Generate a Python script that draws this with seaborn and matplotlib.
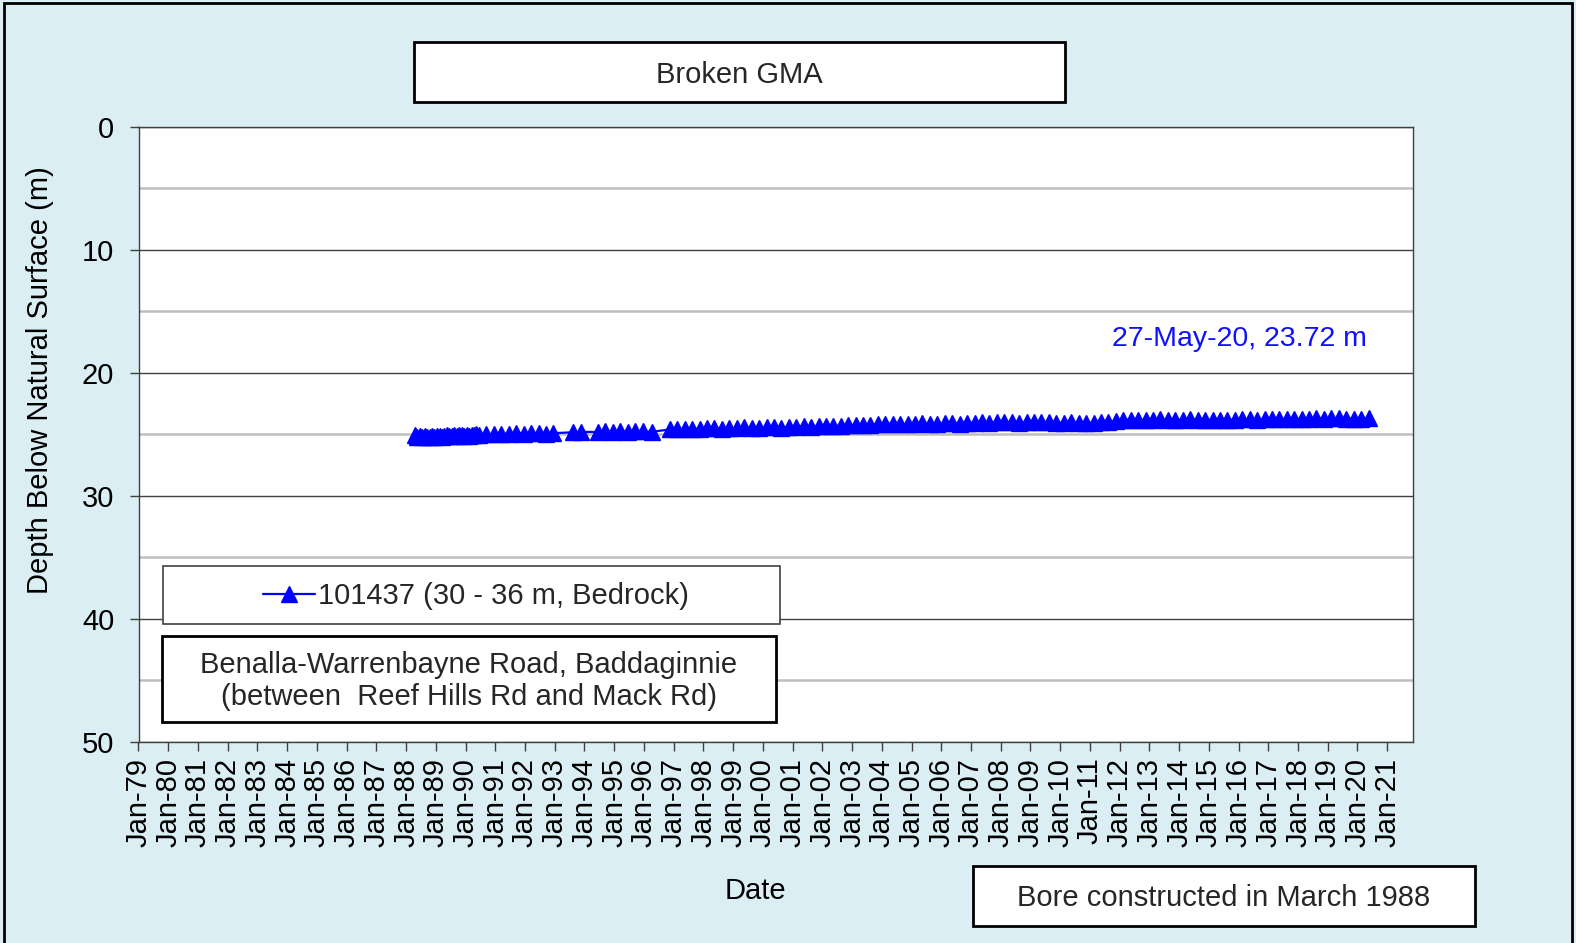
import matplotlib
matplotlib.use("Agg")
import matplotlib.pyplot as plt
import matplotlib.dates as mdates
from matplotlib.patches import Rectangle
from matplotlib.ticker import FixedLocator
import pandas as pd
import seaborn as sns

# ---------------- data ----------------
dates = [
    # monthly 1988-1990
    "1988-04-15", "1988-05-15", "1988-06-15", "1988-07-15", "1988-08-15", "1988-09-15",
    "1988-10-15", "1988-11-15", "1988-12-15", "1989-01-15", "1989-02-15", "1989-03-15",
    "1989-04-15", "1989-05-15", "1989-06-15", "1989-07-15", "1989-08-15", "1989-09-15",
    "1989-10-15", "1989-11-15", "1989-12-15", "1990-01-15", "1990-02-15", "1990-03-15",
    "1990-04-15", "1990-05-15", "1990-06-15",
    # quarterly 1990-1992
    "1990-09-15", "1990-12-15", "1991-03-15", "1991-06-15", "1991-09-15", "1991-12-15",
    "1992-03-15", "1992-06-15", "1992-09-15", "1992-12-15",
    "1993-08-15", "1993-11-15",
    "1994-06-15", "1994-09-15", "1994-12-15", "1995-03-15", "1995-06-15", "1995-09-15",
    "1995-12-15",
    "1996-04-15",
    "1996-11-15",
    "1997-02-15", "1997-05-15", "1997-08-15", "1997-11-15",
    "1998-02-15", "1998-05-15", "1998-08-15", "1998-11-15",
    "1999-02-15", "1999-05-15", "1999-08-15", "1999-11-15",
    "2000-02-15", "2000-05-15", "2000-08-15", "2000-11-15",
    "2001-02-15", "2001-05-15", "2001-08-15", "2001-11-15",
    "2002-02-15", "2002-05-15", "2002-08-15", "2002-11-15",
    "2003-02-15", "2003-05-15", "2003-08-15", "2003-11-15",
    "2004-02-15", "2004-05-15", "2004-08-15", "2004-11-15",
    "2005-02-15", "2005-05-15", "2005-08-15", "2005-11-15",
    "2006-02-15", "2006-05-15", "2006-08-15", "2006-11-15",
    "2007-02-15", "2007-05-15", "2007-08-15", "2007-11-15",
    "2008-02-15", "2008-05-15", "2008-08-15", "2008-11-15",
    "2009-02-15", "2009-05-15", "2009-08-15", "2009-11-15",
    "2010-02-15", "2010-05-15", "2010-08-15", "2010-11-15",
    "2011-02-15", "2011-05-15", "2011-08-15", "2011-11-15",
    "2012-02-15", "2012-05-15", "2012-08-15", "2012-11-15",
    "2013-02-15", "2013-05-15", "2013-08-15", "2013-11-15",
    "2014-02-15", "2014-05-15", "2014-08-15", "2014-11-15",
    "2015-02-15", "2015-05-15", "2015-08-15", "2015-11-15",
    "2016-02-15", "2016-05-15", "2016-08-15", "2016-11-15",
    "2017-02-15", "2017-05-15", "2017-08-15", "2017-11-15",
    "2018-02-15", "2018-05-15", "2018-08-15", "2018-11-15",
    "2019-02-15", "2019-05-15", "2019-08-15", "2019-11-15",
    "2020-02-15", "2020-05-27",
]

depths = [
    25.05, 25.20, 25.15, 25.22, 25.18, 25.25,
    25.20, 25.15, 25.22, 25.18, 25.12, 25.20,
    25.15, 25.10, 25.18, 25.12, 25.08, 25.15,
    25.10, 25.05, 25.12, 25.08, 25.15, 25.10,
    25.05, 25.02, 25.08,
    24.98, 25.02, 24.95, 24.98, 24.92, 24.96,
    24.94, 24.90, 24.95, 24.92,
    24.85, 24.82,
    24.82, 24.78, 24.80, 24.76, 24.79, 24.74,
    24.77,
    24.80,
    24.62,
    24.60, 24.58, 24.62, 24.55,
    24.52, 24.50, 24.55, 24.52,
    24.50, 24.45, 24.48, 24.47,
    24.45, 24.42, 24.46, 24.40,
    24.38, 24.35, 24.40, 24.36,
    24.35, 24.32, 24.34, 24.28,
    24.25, 24.22, 24.26, 24.20,
    24.18, 24.15, 24.20, 24.17,
    24.15, 24.12, 24.17, 24.14,
    24.12, 24.10, 24.14, 24.08,
    24.06, 24.04, 24.08, 24.05,
    24.05, 24.02, 24.06, 24.03,
    24.04, 24.02, 24.05, 24.06,
    24.08, 24.05, 24.10, 24.07,
    24.06, 24.04, 24.02, 23.90,
    23.85, 23.82, 23.88, 23.84,
    23.82, 23.80, 23.86, 23.83,
    23.84, 23.80, 23.85, 23.82,
    23.84, 23.81, 23.86, 23.83,
    23.80, 23.78, 23.82, 23.79,
    23.78, 23.75, 23.80, 23.77,
    23.76, 23.73, 23.70, 23.74,
    23.72, 23.70, 23.75, 23.73,
    23.74, 23.72,
]

series_label = "101437 (30 - 36 m, Bedrock)"
title_text = "Broken GMA"
location_text = "Benalla-Warrenbayne Road, Baddaginnie\n(between  Reef Hills Rd and Mack Rd)"
bore_text = "Bore constructed in March 1988"
latest_text = "27-May-20, 23.72 m"
y_ticks = [0, 10, 20, 30, 40, 50]
y_minor = [5, 15, 25, 35, 45]
x_start, x_end = "1979-01-01", "2021-11-13"

df = pd.DataFrame({"Date": pd.to_datetime(dates), "Depth": depths})

# ---------------- figure ----------------
sns.set_theme(style="white")
plt.rcParams["font.family"] = ["Liberation Sans", "DejaVu Sans"]

W, H = 1576, 943
bg = "#DAEEF3"
fig = plt.figure(figsize=(W / 100, H / 100), dpi=100, facecolor=bg)

def fx(px):
    return px / W

def fy(py):
    return 1 - py / H

ax_l, ax_r, ax_t, ax_b = 138.5, 1413, 126.6, 741.7
ax = fig.add_axes([fx(ax_l), fy(ax_b), fx(ax_r) - fx(ax_l), (ax_b - ax_t) / H])
ax.set_facecolor("white")

sns.lineplot(data=df, x="Date", y="Depth", ax=ax, color="#0000FF", marker="^",
             markersize=11.5, markeredgecolor="#0000FF", markeredgewidth=1,
             linewidth=1.6, label=series_label, legend=False)

ax.set_ylim(50, 0)
ax.yaxis.set_major_locator(FixedLocator(y_ticks))
ax.yaxis.set_minor_locator(FixedLocator(y_minor))
ax.set_xlim(pd.Timestamp(x_start), pd.Timestamp(x_end))
ax.xaxis.set_major_locator(mdates.YearLocator(1, month=1, day=1))
ax.xaxis.set_major_formatter(mdates.DateFormatter("%b-%y"))

ax.grid(which="major", axis="y", color="#404040", linewidth=1.0)
ax.grid(which="minor", axis="y", color="#BFBFBF", linewidth=1.8)
ax.grid(which="major", axis="x", visible=False)
ax.set_axisbelow(True)

for s in ax.spines.values():
    s.set_color("#404040")
    s.set_linewidth(1.0)

ax.tick_params(axis="y", which="major", direction="out", length=6.5, width=1,
               color="#404040", labelsize=21, pad=11, labelcolor="black")
ax.tick_params(axis="y", which="minor", length=0)
ax.tick_params(axis="x", which="major", direction="out", length=6.5, width=1,
               color="#404040", labelsize=21, pad=5, labelrotation=90, labelcolor="black")
ax.tick_params(left=True, bottom=True)

ax.set_ylabel("Depth Below Natural Surface (m)", fontsize=21, color="black")
ax.yaxis.label.set_va("center")
ax.yaxis.set_label_coords((40 - ax_l) / (ax_r - ax_l), (ax_b - 380) / (ax_b - ax_t))
ax.set_xlabel("Date", fontsize=21, color="black")
ax.xaxis.label.set_va("center")
ax.xaxis.set_label_coords((755 - ax_l) / (ax_r - ax_l), (ax_b - 891) / (ax_b - ax_t))

# ---------------- boxes ----------------
def box(x0, y0, x1, y1, ec="black", lw=2.0):
    fig.add_artist(Rectangle((fx(x0), fy(y1)), fx(x1) - fx(x0), (y1 - y0) / H,
                             transform=fig.transFigure, facecolor="white",
                             edgecolor=ec, linewidth=lw, zorder=2))

# figure border
fig.add_artist(Rectangle((fx(4), fy(960)), fx(1572) - fx(4), (960 - 3) / H,
                         transform=fig.transFigure, facecolor="none",
                         edgecolor="black", linewidth=2, zorder=1))

box(414, 42, 1065, 102)
fig.text(fx(739.5), fy(75), title_text, ha="center", va="center", fontsize=21, zorder=3)

box(163, 566, 780, 624, ec="#404040", lw=1.2)
handles, labels = ax.get_legend_handles_labels()
fig.legend(handles, labels, loc="center", bbox_to_anchor=(fx(476), fy(596)),
           bbox_transform=fig.transFigure, frameon=False, fontsize=21,
           handlelength=1.8, handletextpad=0.1, borderpad=0)

box(162, 636, 776, 722)
fig.text(fx(469), fy(681), location_text, ha="center", va="center", fontsize=21,
         linespacing=1.2, zorder=3)

box(973, 866, 1475, 926)
fig.text(fx(1224), fy(898), bore_text, ha="center", va="center", fontsize=21, zorder=3)

fig.text(fx(1367), fy(339), latest_text, ha="right", va="center", fontsize=20.5,
         color="#1010FF", zorder=3)

fig.savefig("out.png", dpi=100, facecolor=bg)
